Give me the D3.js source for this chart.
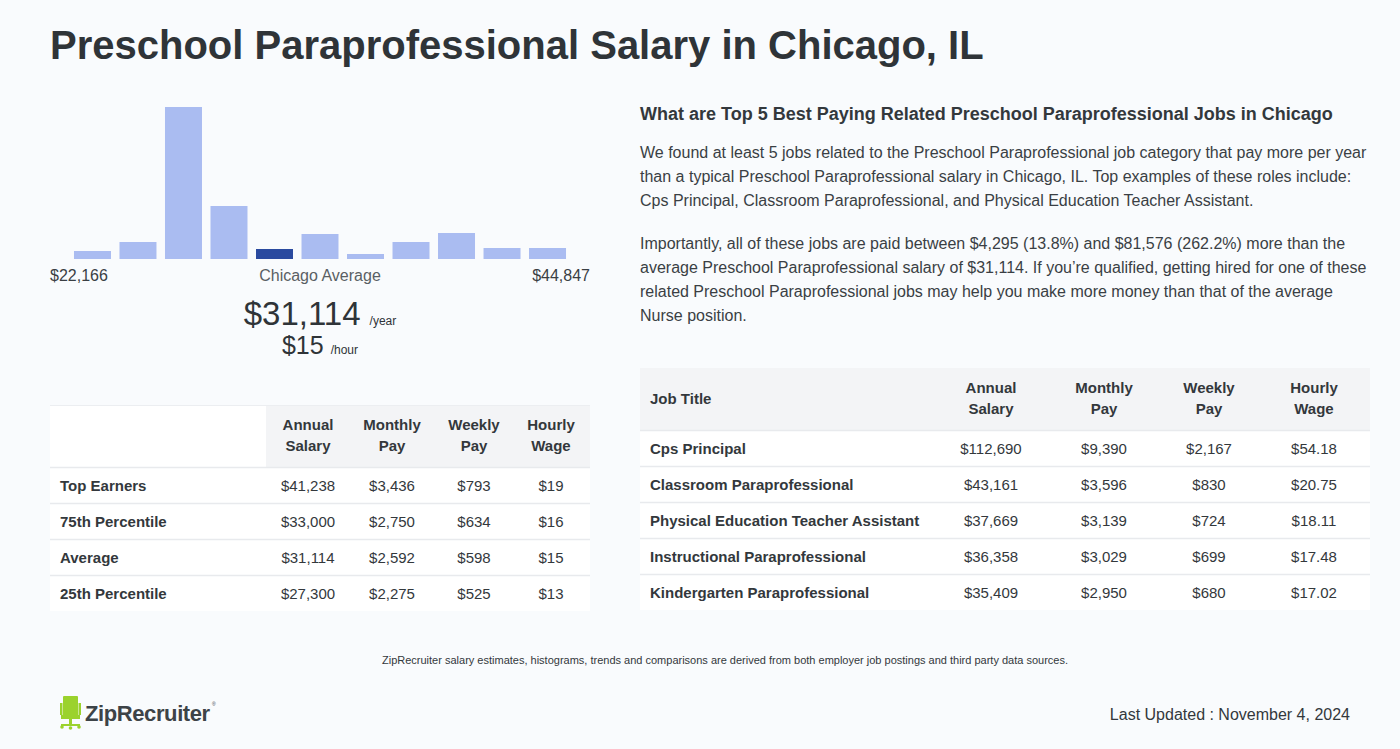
<!DOCTYPE html>
<html><head><meta charset="utf-8">
<script src="https://cdn.jsdelivr.net/npm/d3@7/dist/d3.min.js"></script>
<style>
html,body{margin:0;padding:0;background:#f9fbfd;}
svg{display:block;font-family:"Liberation Sans",Arial,sans-serif;}
</style></head>
<body>
<svg id="c" width="1400" height="749"></svg>
<script>
// ---- data ----
const histBins = ["b1","b2","b3","b4","b5","b6","b7","b8","b9","b10","b11"];
const histCounts = [8,17,152,53,10,25,5,17,26,11,11];
const histHighlight = 4;
const histMinLabel = "$22,166";
const histMaxLabel = "$44,847";
const avgYear = "$31,114";
const avgHour = "$15";

const leftCols = ["Annual\nSalary","Monthly\nPay","Weekly\nPay","Hourly\nWage"];
const leftRows = ["Top Earners","75th Percentile","Average","25th Percentile"];
const leftAnnual = [41238,33000,31114,27300];
const leftMonthly = [3436,2750,2592,2275];
const leftWeekly = [793,634,598,525];
const leftHourly = [19,16,15,13];

const rightCols = ["Job Title","Annual\nSalary","Monthly\nPay","Weekly\nPay","Hourly\nWage"];
const jobs = ["Cps Principal","Classroom Paraprofessional","Physical Education Teacher Assistant","Instructional Paraprofessional","Kindergarten Paraprofessional"];
const jobAnnual = [112690,43161,37669,36358,35409];
const jobMonthly = [9390,3596,3139,3029,2950];
const jobWeekly = [2167,830,724,699,680];
const jobHourly = [54.18,20.75,18.11,17.48,17.02];

const title = "Preschool Paraprofessional Salary in Chicago, IL";
const rightHeading = "What are Top 5 Best Paying Related Preschool Paraprofessional Jobs in Chicago";
const para1 = ["We found at least 5 jobs related to the Preschool Paraprofessional job category that pay more per year",
"than a typical Preschool Paraprofessional salary in Chicago, IL. Top examples of these roles include:",
"Cps Principal, Classroom Paraprofessional, and Physical Education Teacher Assistant."];
const para2 = ["Importantly, all of these jobs are paid between $4,295 (13.8%) and $81,576 (262.2%) more than the",
"average Preschool Paraprofessional salary of $31,114. If you\u2019re qualified, getting hired for one of these",
"related Preschool Paraprofessional jobs may help you make more money than that of the average",
"Nurse position."];
const footnote = "ZipRecruiter salary estimates, histograms, trends and comparisons are derived from both employer job postings and third party data sources.";
const updated = "Last Updated : November 4, 2024";

// ---- drawing ----
const svg = d3.select("#c");
svg.append("rect").attr("width",1400).attr("height",749).attr("fill","#f9fbfd");
const dark = "#2f3438";

svg.append("text").attr("x",50).attr("y",59).attr("font-size",40).attr("font-weight","bold")
  .attr("fill",dark).text(title);

// histogram
const x = d3.scaleBand().domain(histBins).range([50,590]).paddingInner(0.187).paddingOuter(0.527);
const y = d3.scaleLinear().domain([0,152]).range([259,107]);
svg.append("g").selectAll("rect").data(histCounts).join("rect")
  .attr("x",(d,i)=>x(histBins[i])).attr("width",x.bandwidth())
  .attr("y",d=>y(d)).attr("height",d=>y(0)-y(d))
  .attr("fill",(d,i)=>i===histHighlight?"#2a4a9f":"#aabcf1");

svg.append("text").attr("x",50).attr("y",281).attr("font-size",16).attr("fill","#3a3f44").text(histMinLabel);
svg.append("text").attr("x",590).attr("y",281).attr("font-size",16).attr("fill","#3a3f44").attr("text-anchor","end").text(histMaxLabel);
svg.append("text").attr("x",320).attr("y",281).attr("font-size",16).attr("fill","#5a5f64").attr("text-anchor","middle").text("Chicago Average");

const t1 = svg.append("text").attr("x",320).attr("y",325).attr("text-anchor","middle").attr("fill",dark);
t1.append("tspan").attr("font-size",33).text(avgYear);
t1.append("tspan").attr("font-size",12).attr("dx",9).text("/year");
const t2 = svg.append("text").attr("x",320).attr("y",354).attr("text-anchor","middle").attr("fill",dark);
t2.append("tspan").attr("font-size",25).text(avgHour);
t2.append("tspan").attr("font-size",12).attr("dx",7).text("/hour");

const fmt0 = d3.format("$,.0f");
const fmt2 = d3.format("$,.2f");

function header(g, txt, cx, top){
  const lines = txt.split("\n");
  const t = g.append("text").attr("text-anchor", lines.length>1?"middle":"start").attr("font-size",15)
    .attr("font-weight","bold").attr("fill","#33383c");
  lines.forEach((l,i)=>t.append("tspan").attr("x",cx).attr("y",top + (lines.length===1?36: (i===0?25:46))).text(l));
}

// left table
{
  const g = svg.append("g");
  const x0=50,x1=590,top=405,hh=62,rh=36;
  g.append("rect").attr("x",x0).attr("y",top).attr("width",x1-x0).attr("height",hh+rh*leftRows.length).attr("fill","#ffffff");
  g.append("rect").attr("x",266).attr("y",top).attr("width",x1-266).attr("height",hh).attr("fill","#f3f4f6");
  g.append("line").attr("x1",x0).attr("x2",x1).attr("y1",top+0.5).attr("y2",top+0.5).attr("stroke","#eceef1");
  const cx=[308,392,474,551];
  leftCols.forEach((c,i)=>header(g,c,cx[i],top));
  const cols=[leftAnnual.map(fmt0),leftMonthly.map(fmt0),leftWeekly.map(fmt0),leftHourly.map(fmt0)];
  leftRows.forEach((r,i)=>{
    const yt=top+hh+rh*i;
    g.append("line").attr("x1",x0).attr("x2",x1).attr("y1",yt+0.5).attr("y2",yt+0.5).attr("stroke","#e8eaed").attr("stroke-width",1.5);
    g.append("text").attr("x",60).attr("y",yt+24).attr("font-size",15).attr("font-weight","bold").attr("fill","#33383c").text(r);
    cols.forEach((c,j)=>g.append("text").attr("x",cx[j]).attr("y",yt+24).attr("text-anchor","middle").attr("font-size",15).attr("fill","#33383c").text(c[i]));
  });
}

// right text
svg.append("text").attr("x",640).attr("y",120).attr("font-size",18).attr("font-weight","bold").attr("fill","#33383c").text(rightHeading);
para1.forEach((l,i)=>svg.append("text").attr("x",640).attr("y",158+24*i).attr("font-size",16).attr("fill","#3a3f44").text(l));
para2.forEach((l,i)=>svg.append("text").attr("x",640).attr("y",249+24*i).attr("font-size",16).attr("fill","#3a3f44").text(l));

// right table
{
  const g = svg.append("g");
  const x0=640,x1=1370,top=368,hh=62,rh=36;
  g.append("rect").attr("x",x0).attr("y",top).attr("width",x1-x0).attr("height",hh+rh*jobs.length).attr("fill","#ffffff");
  g.append("rect").attr("x",x0).attr("y",top).attr("width",x1-x0).attr("height",hh).attr("fill","#f3f4f6");
  const cx=[650,991,1104,1209,1314];
  rightCols.forEach((c,i)=>header(g,c,cx[i],top));
  const cols=[jobAnnual.map(fmt0),jobMonthly.map(fmt0),jobWeekly.map(fmt0),jobHourly.map(fmt2)];
  jobs.forEach((r,i)=>{
    const yt=top+hh+rh*i;
    g.append("line").attr("x1",x0).attr("x2",x1).attr("y1",yt+0.5).attr("y2",yt+0.5).attr("stroke","#e8eaed").attr("stroke-width",1.5);
    g.append("text").attr("x",650).attr("y",yt+24).attr("font-size",15).attr("font-weight","bold").attr("fill","#33383c").text(r);
    cols.forEach((c,j)=>g.append("text").attr("x",cx[j+1]).attr("y",yt+24).attr("text-anchor","middle").attr("font-size",15).attr("fill","#33383c").text(c[i]));
  });
}

svg.append("text").attr("x",725).attr("y",664).attr("text-anchor","middle").attr("font-size",11).attr("fill","#33383c").text(footnote);
svg.append("text").attr("x",1350).attr("y",720).attr("text-anchor","end").attr("font-size",16).attr("fill","#33383c").text(updated);

// logo
{
  const g = svg.append("g").attr("fill","#9bd22d");
  g.append("rect").attr("x",63).attr("y",696).attr("width",15).attr("height",20).attr("rx",1);
  g.append("rect").attr("x",60).attr("y",703).attr("width",2.5).attr("height",12);
  g.append("rect").attr("x",78.5).attr("y",703).attr("width",2.5).attr("height",12);
  g.append("rect").attr("x",61).attr("y",715).attr("width",19).attr("height",4);
  g.append("rect").attr("x",69).attr("y",719).attr("width",3).attr("height",6);
  g.append("rect").attr("x",61).attr("y",724).attr("width",19).attr("height",2);
  g.append("circle").attr("cx",62).attr("cy",727).attr("r",1.8);
  g.append("circle").attr("cx",79).attr("cy",727).attr("r",1.8);
  g.append("circle").attr("cx",70.5).attr("cy",728).attr("r",1.8);
  svg.append("text").attr("x",85).attr("y",721).attr("font-size",22).attr("font-weight","bold").attr("letter-spacing",-0.4)
    .attr("fill","#3d4347").text("ZipRecruiter");
  svg.append("text").attr("x",212).attr("y",706).attr("font-size",5).attr("fill","#3d4347").text("®");
}
</script>
</body></html>
